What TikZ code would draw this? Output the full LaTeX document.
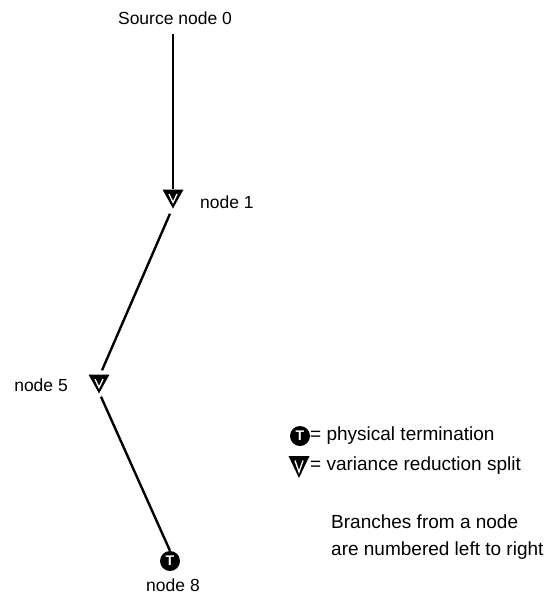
\documentclass[tikz,border=0pt]{standalone}
\usepackage{fontspec}
\setmainfont{Liberation Sans}
\begin{document}
\begin{tikzpicture}[x=1pt,y=-1pt,
  every node/.style={font=\fontsize{17.5}{20}\selectfont, inner sep=0pt},
  keytext/.style={anchor=west, font=\fontsize{19}{22}\selectfont},
  branch/.style={line width=2.4pt},
  vsplit/.style={minimum width=21pt, minimum height=19pt, inner sep=0pt,
    path picture={
      \fill[black] (path picture bounding box.north west) --
        (path picture bounding box.north east) --
        (path picture bounding box.south) -- cycle;
      \draw[white, line width=1.3pt, line join=miter]
        ([xshift=6.5pt,yshift=-4.5pt]path picture bounding box.north west) --
        ([yshift=6pt]path picture bounding box.south) --
        ([xshift=-6.5pt,yshift=-4.5pt]path picture bounding box.north east);
    }},
  term/.style={circle, fill=black, minimum size=20pt, inner sep=0pt,
    text=white, font=\fontsize{14}{14}\selectfont\bfseries}
]
\useasboundingbox (0,0) rectangle (545,598);

% tree nodes
\node (src) at (175,18) {Source node 0};
\node[vsplit] (n1) at (173,199) {};
\node[anchor=west] (l1) at (200,202) {node 1};
\node[vsplit] (n5) at (99,384) {};
\node[anchor=east] (l5) at (68,385) {node 5};
\node[term] (n8) at (170,561) {T};
\node (l8) at (173,585) {node 8};

% branches
\draw[branch] ([yshift=-9pt]src.south -| n1.north) -- (n1.north);
\draw[branch] ([xshift=-3pt,yshift=-5pt]n1.south) -- ([xshift=3pt,yshift=4pt]n5.north);
\draw[branch] ([xshift=2pt,yshift=-3pt]n5.south) -- (n8.north);

% legend
\node[term] (kt) at (300,436) {T};
\node[keytext] (kttext) at (310,436) {= physical termination};
\node[vsplit, minimum height=22pt] (kv) at (299,467) {};
\node[keytext] (kvtext) at (310,466) {= variance reduction split};
\node[keytext] (note1) at (331,522) {Branches from a node};
\node[keytext] (note2) at (331,551) {are numbered left to right};
\end{tikzpicture}
\end{document}
